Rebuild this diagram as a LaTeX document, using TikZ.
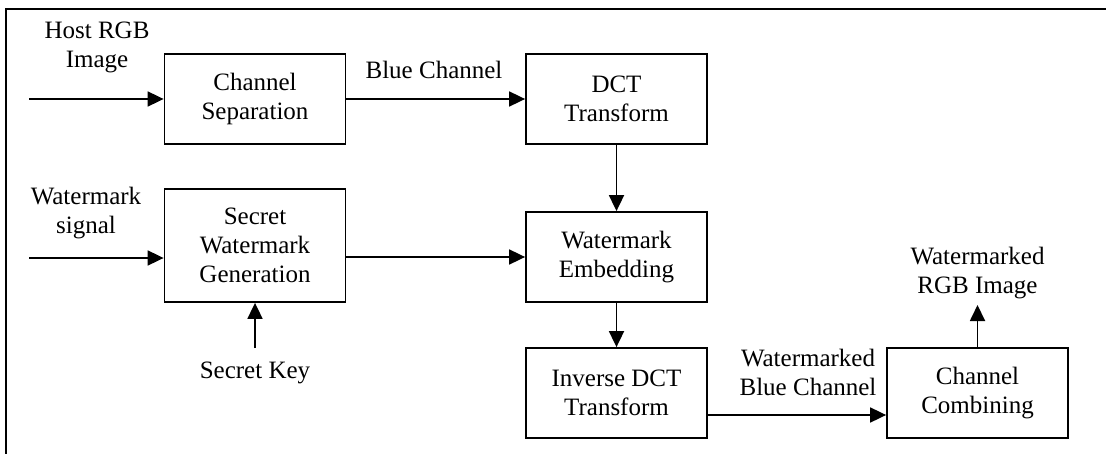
\documentclass[tikz,border=0pt]{standalone}
\usepackage{fontspec}
\setmainfont{Liberation Serif}
\usepackage{tikz}
\usetikzlibrary{calc, positioning, arrows.meta}

\begin{document}
\begin{tikzpicture}[x=0.5pt, y=-0.5pt, line width=0.9pt,
    font=\fontsize{12.5}{14.5}\selectfont,
    block/.style={draw, align=center, minimum width=90.5pt, minimum height=45pt, inner sep=0pt},
    lbl/.style={align=center, inner sep=0pt},
    flow/.style={-{Triangle[length=8pt, width=7.5pt]}}]
  % frame
  \useasboundingbox (0,0) rectangle (1106,454);
  \draw[line width=1.1pt] (1106,9) -- (6,9) -- (6,454);

  % blocks
  \node[block] (sep)  at (255,99)    {Channel\\Separation};
  \node[block] (dct)  at (616.5,99)  {DCT\\Transform};
  \node[block, minimum height=56.5pt] (gen) at (255,245.5) {Secret\\Watermark\\Generation};
  \node[block] (emb)  at (616.5,257) {Watermark\\Embedding};
  \node[block] (idct) at (616.5,393) {Inverse DCT\\Transform};
  \node[block] (comb) at (977.5,393) {Channel\\Combining};

  % free ends
  \coordinate (hostin) at (29,99);
  \coordinate (wmin)   at (29,258);
  \coordinate (keyin)  at (255,348);
  \coordinate (rgbout) at (977.5,305);

  % labels
  \node[lbl] (hostlbl) at (97,47)    {Host RGB\\Image};
  \node[lbl] (bluelbl) at (434,70)   {Blue Channel};
  \node[lbl] (wmlbl)   at (86,213)   {Watermark\\signal};
  \node[lbl] (keylbl)  at (255,373)  {Secret Key};
  \node[lbl] (wblbl)   at (808,372)  {Watermarked\\Blue Channel};
  \node[lbl] (outlbl)  at (977.5,273) {Watermarked\\RGB Image};

  % connectors
  \draw[flow] (hostin) -- (sep.west);
  \draw[flow] (sep.east) -- (dct.west);
  \draw[flow] (dct.south) -- (emb.north);
  \draw[flow] (wmin) -- (wmin -| gen.west);
  \draw[flow] (emb.west -| gen.east) -- (emb.west);
  \draw[flow] (keyin) -- (gen.south);
  \draw[flow] (emb.south) -- (idct.north);
  \draw[flow] ([yshift=-11pt]idct.east) -- ([yshift=-11pt]comb.west);
  \draw[flow] (comb.north) -- (rgbout);
\end{tikzpicture}
\end{document}
